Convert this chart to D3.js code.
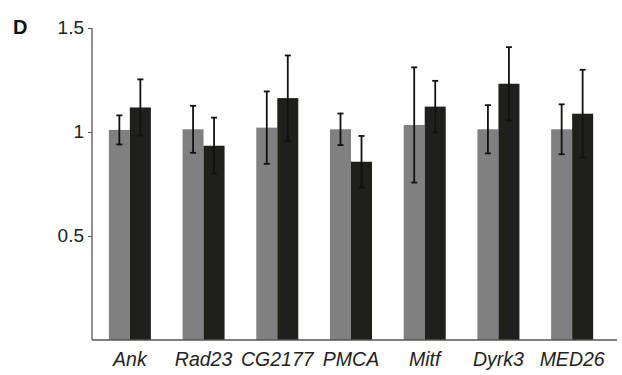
<!DOCTYPE html>
<html>
<head>
<meta charset="utf-8">
<script src="https://cdn.jsdelivr.net/npm/d3@7"></script>
<style>
  body { margin: 0; background: #fff; }
  svg { display: block; font-family: "Liberation Sans", Arial, sans-serif; }
</style>
</head>
<body>
<svg id="chart" width="622" height="375"></svg>
<script>
const genes = ['Ank', 'Rad23', 'CG2177', 'PMCA', 'Mitf', 'Dyrk3', 'MED26'];
const controlMean = [1.01, 1.013, 1.021, 1.013, 1.034, 1.013, 1.013];
const controlErr = [0.07, 0.113, 0.174, 0.076, 0.277, 0.116, 0.12];
const treatedMean = [1.118, 0.934, 1.163, 0.857, 1.122, 1.232, 1.088];
const treatedErr = [0.135, 0.135, 0.205, 0.124, 0.124, 0.176, 0.211];
const yTicks = [0.5, 1, 1.5];

const series = [
  { key: 'control', mean: controlMean, err: controlErr, color: '#808080' },
  { key: 'treated', mean: treatedMean, err: treatedErr, color: '#1f1f1b' }
];

const svg = d3.select('#chart');
const m = { left: 92, right: 617, top: 28, bottom: 340 };

const x = d3.scaleBand().domain(genes).range([93, 609]).paddingInner(0.43).paddingOuter(0.215);
const xSub = d3.scaleBand().domain(series.map(s => s.key)).range([0, x.bandwidth()]);
const y = d3.scaleLinear().domain([0, 1.5]).range([m.bottom, m.top]);

// bars
series.forEach(s => {
  svg.append('g')
    .selectAll('rect')
    .data(genes)
    .enter().append('rect')
    .attr('x', d => x(d) + xSub(s.key))
    .attr('y', (d, i) => y(s.mean[i]))
    .attr('width', xSub.bandwidth())
    .attr('height', (d, i) => y(0) - y(s.mean[i]))
    .attr('fill', s.color);
});

// error bars
series.forEach(s => {
  const g = svg.append('g').attr('stroke', '#111').attr('stroke-width', 1.8);
  genes.forEach((d, i) => {
    const cx = x(d) + xSub(s.key) + xSub.bandwidth() / 2;
    const hi = y(s.mean[i] + s.err[i]);
    const lo = y(s.mean[i] - s.err[i]);
    g.append('line').attr('x1', cx).attr('x2', cx).attr('y1', hi).attr('y2', lo);
    g.append('line').attr('x1', cx - 3).attr('x2', cx + 3).attr('y1', hi).attr('y2', hi);
    g.append('line').attr('x1', cx - 3).attr('x2', cx + 3).attr('y1', lo).attr('y2', lo);
  });
});

// y axis
const yAxis = svg.append('g')
  .attr('transform', `translate(${m.left},0)`)
  .call(d3.axisLeft(y).tickValues(yTicks).tickFormat(d3.format('')).tickSize(4).tickSizeOuter(0));
yAxis.select('.domain').attr('stroke', '#555').attr('stroke-width', 1.3)
  .attr('d', `M0,${m.top}V${m.bottom}`);
yAxis.selectAll('.tick line').attr('stroke', '#555');
yAxis.selectAll('.tick text')
  .attr('font-size', 19).attr('fill', '#222').attr('x', -8).attr('dy', '0.3em')
  .attr('font-family', '"Liberation Sans", Arial, sans-serif');

// x axis line
svg.append('line')
  .attr('x1', m.left).attr('x2', m.right)
  .attr('y1', m.bottom).attr('y2', m.bottom)
  .attr('stroke', '#555').attr('stroke-width', 1.3);

// gene labels
svg.append('g')
  .selectAll('text')
  .data(genes)
  .enter().append('text')
  .attr('x', d => x(d) + x.bandwidth() / 2)
  .attr('y', 366)
  .attr('text-anchor', 'middle')
  .attr('font-size', 19.5)
  .attr('font-style', 'italic')
  .attr('fill', '#222')
  .text(d => d);

// panel letter
svg.append('text')
  .attr('x', 13).attr('y', 34)
  .attr('font-size', 20)
  .attr('font-weight', 'bold')
  .attr('fill', '#111')
  .text('D');
</script>
</body>
</html>
